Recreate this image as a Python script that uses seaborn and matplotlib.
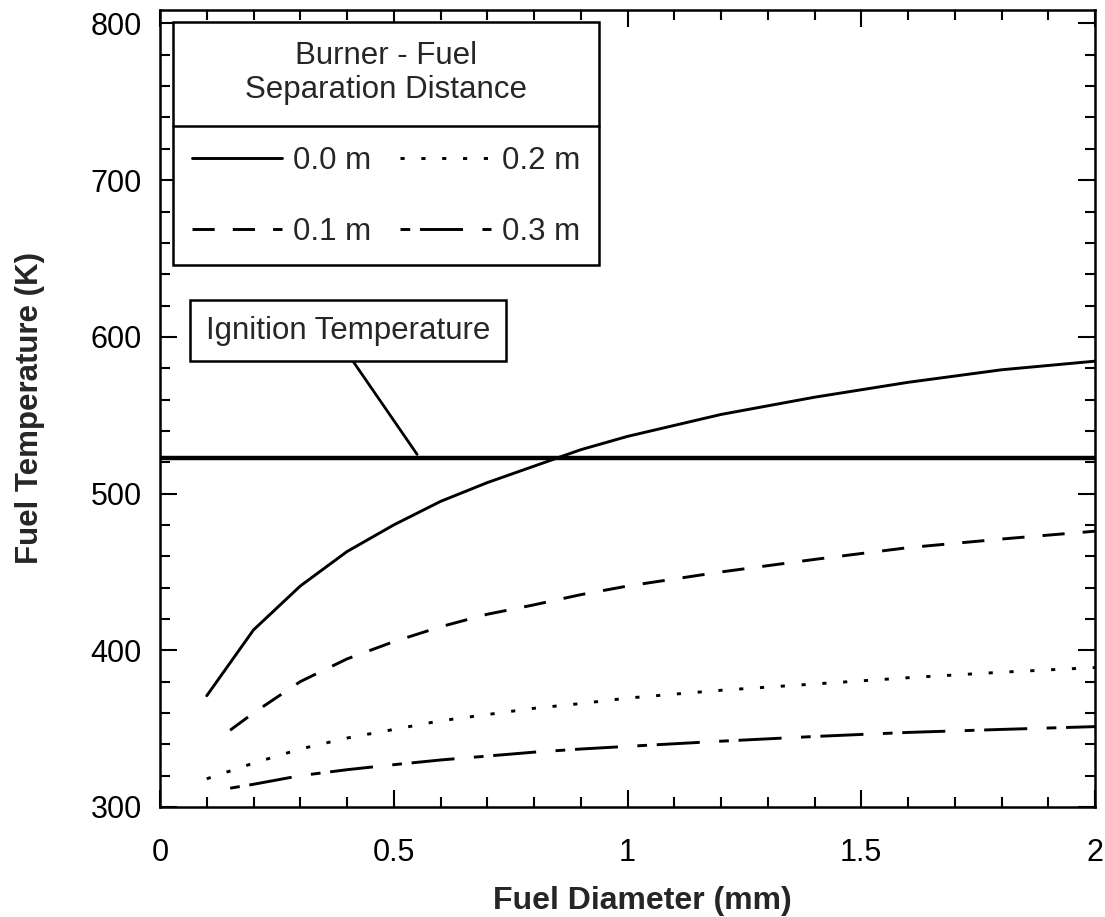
"""
Fuel temperature versus fuel diameter for several burner - fuel
separation distances, with the ignition temperature marked.
"""

import numpy as np
import pandas as pd
import matplotlib
matplotlib.use("Agg")
import matplotlib.pyplot as plt
from matplotlib.lines import Line2D
from matplotlib.ticker import MultipleLocator
import seaborn as sns

# diameters (mm)
diam_a = [0.1, 0.2, 0.3, 0.4, 0.5, 0.6, 0.7, 0.8, 0.9, 1.0, 1.2, 1.4, 1.6, 1.8, 2.0]
diam_b = [0.15, 0.2, 0.3, 0.4, 0.5, 0.6, 0.7, 0.8, 0.9, 1.0, 1.2, 1.4, 1.6, 1.8, 2.0]

# fuel temperature (K) for each separation distance
temp_00 = [371, 413, 441, 463, 480, 495, 507, 517.5, 528, 536.5, 550.5, 561.5, 571, 579, 584.5]
temp_01 = [349, 360, 380, 394.5, 405.5, 415, 423, 429, 435.5, 441, 450, 458, 465.5, 471, 476]
temp_02 = [318, 328, 337, 344, 349.5, 355, 359, 363, 366, 369.5, 374.5, 378.5, 382.5, 386, 389]
temp_03 = [312, 314.5, 320, 323.8, 327, 330, 332.5, 335, 337, 338.7, 342, 345, 347.6, 349.5, 351.3]

separations = ["0.0 m", "0.1 m", "0.2 m", "0.3 m"]
ignition_temp = 523

x_ticks = [0, 0.5, 1, 1.5, 2]
x_tick_labels = ["0", "0.5", "1", "1.5", "2"]
y_ticks = [300, 400, 500, 600, 700, 800]


def build_df():
    """Long dataframe with one row per point"""
    parts = []
    for sep, d, t in zip(separations,
                         [diam_a, diam_b, diam_a, diam_b],
                         [temp_00, temp_01, temp_02, temp_03]):
        parts.append(pd.DataFrame({"diameter": d, "temp": t, "sep": sep}))
    return pd.concat(parts, ignore_index=True)


df = build_df()

sns.set_theme(style="ticks")
plt.rcParams["font.family"] = ["Liberation Sans", "DejaVu Sans"]
plt.rcParams["lines.scale_dashes"] = False

fig, ax = plt.subplots(figsize=(11.05, 9.17), dpi=100)
fig.subplots_adjust(left=160 / 1105, right=1095 / 1105,
                    bottom=(917 - 807) / 917, top=(917 - 10) / 917)

# dash patterns in points
dash_map = {"0.0 m": "", "0.1 m": (16, 13), "0.2 m": (3, 12),
            "0.3 m": (7, 7, 31, 14)}

sns.lineplot(data=df, x="diameter", y="temp", style="sep",
             style_order=separations, dashes=dash_map, color="black",
             linewidth=2.1, estimator=None, sort=False, legend=False, ax=ax)

ax.axhline(ignition_temp, color="black", linewidth=3.2)

ax.annotate("Ignition Temperature", xy=(0.55, ignition_temp + 2),
            xytext=(0.402, 604), ha="center", va="center", fontsize=22.5,
            bbox=dict(boxstyle="square,pad=0.5", fc="white", ec="black",
                      lw=1.8),
            arrowprops=dict(arrowstyle="-", color="black", lw=2.0,
                            relpos=(0.48, 0), shrinkA=0, shrinkB=0))

# axes and ticks
ax.set_xlim(0, 2)
ax.set_ylim(300, 808.6)
ax.set_xticks(x_ticks)
ax.set_xticklabels(x_tick_labels)
ax.set_yticks(y_ticks)
ax.xaxis.set_minor_locator(MultipleLocator(0.1))
ax.yaxis.set_minor_locator(MultipleLocator(20))
ax.tick_params(which="both", direction="in", top=True, right=True,
               width=1.5, colors="black")
ax.tick_params(which="major", length=12, labelsize=22)
ax.tick_params(which="minor", length=7)
ax.tick_params(axis="x", which="major", pad=22)
ax.tick_params(axis="y", which="major", pad=13)
for spine in ax.spines.values():
    spine.set_linewidth(1.8)
    spine.set_color("black")

ax.set_xlabel("Fuel Diameter (mm)", fontsize=23, fontweight="bold")
ax.set_ylabel("Fuel Temperature (K)", fontsize=22.5, fontweight="bold")
ax.xaxis.set_label_coords(0.516, -0.099)
ax.yaxis.set_label_coords(-0.123, 0.5)

# legend built from the drawn lines
leg = ax.legend(handles=ax.lines[:4], labels=separations, ncol=2,
                title="Burner - Fuel\nSeparation Distance",
                loc="upper left", bbox_to_anchor=(13 / 935, (807 - 22) / 797),
                borderaxespad=0, fontsize=22.5, title_fontsize=22.5,
                frameon=True, fancybox=False, edgecolor="black",
                framealpha=1, handlelength=2.9, handletextpad=0.35,
                columnspacing=0.92, labelspacing=1.3, borderpad=0.6)
leg.get_frame().set_linewidth(1.8)
leg.get_title().set_multialignment("center")

# separator line between legend title and entries
fig.canvas.draw()
frame_bb = leg.get_frame().get_window_extent()
title_bb = leg.get_title().get_window_extent()
entry_bb = leg.get_texts()[0].get_window_extent()
y_sep = (title_bb.y0 + entry_bb.y1) / 2
W, H = fig.canvas.get_width_height()
fig.add_artist(Line2D([frame_bb.x0 / W, frame_bb.x1 / W], [y_sep / H, y_sep / H],
                      transform=fig.transFigure, color="black", lw=1.8))

fig.savefig("out.png", dpi=100)
